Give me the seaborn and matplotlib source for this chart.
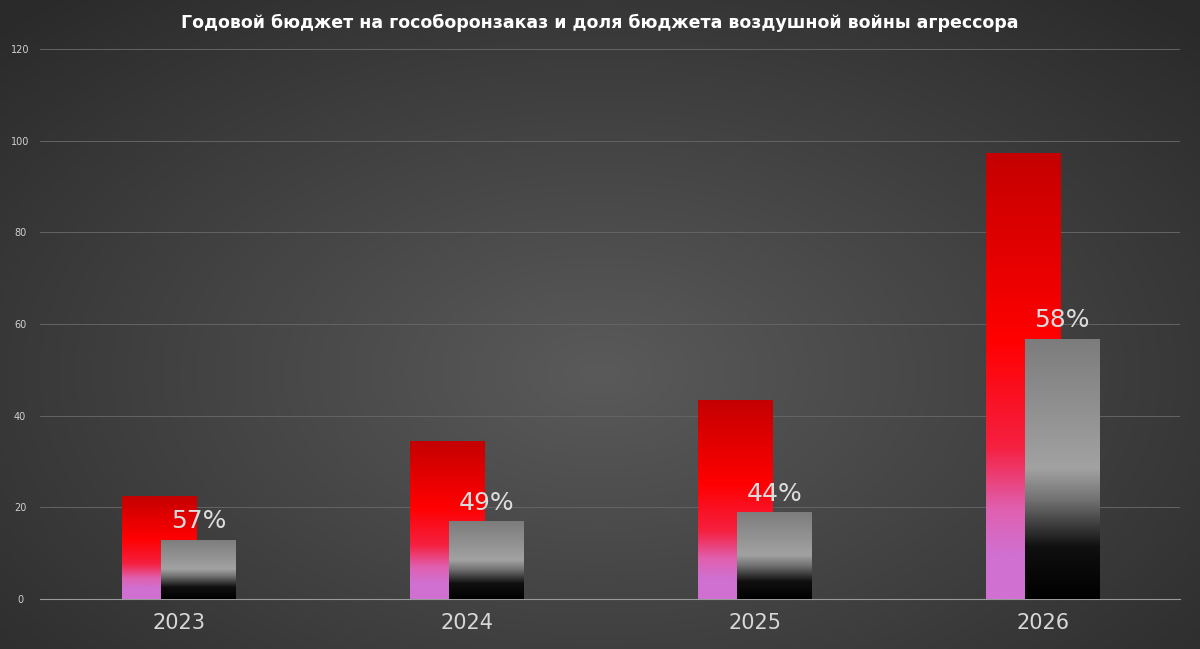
import matplotlib
matplotlib.use("Agg")
import matplotlib.pyplot as plt
import numpy as np
import pandas as pd
import seaborn as sns
from matplotlib.colors import LinearSegmentedColormap

years = ["2023", "2024", "2025", "2026"]
budget_total = [22.5, 34.5, 43.5, 97.4]
budget_air = [12.9, 17.0, 19.0, 56.8]
share_labels = ["57%", "49%", "44%", "58%"]
title = "Годовой бюджет на гособоронзаказ и доля бюджета воздушной войны агрессора"

df = pd.DataFrame({
    "year": years * 2,
    "value": budget_total + budget_air,
    "series": ["total"] * 4 + ["air"] * 4,
})

sns.set_style("dark")
plt.rcParams['font.family'] = ['DejaVu Sans']

fig = plt.figure(figsize=(12, 6.49), dpi=100)

# background: radial gradient, lighter near the upper centre
bg = fig.add_axes([0, 0, 1, 1], zorder=-10)
yy, xx = np.mgrid[-1:1:300j, -1:1:600j]
r = np.sqrt(xx ** 2 + ((yy - 0.15) * 0.9) ** 2)
bg_cmap = LinearSegmentedColormap.from_list("bg", ["#5a5a5a", "#424242", "#2a2a2a"])
bg.imshow(r, cmap=bg_cmap, aspect="auto", extent=[0, 1, 0, 1], vmin=0, vmax=1.4)
bg.axis("off")

ax = fig.add_axes([0.033, 0.077, 0.95, 0.8475])
ax.set_facecolor("none")

sns.barplot(data=df, x="year", y="value", hue="series", hue_order=["total", "air"],
            dodge=True, width=0.5, legend=False, ax=ax)

red_cmap = LinearSegmentedColormap.from_list(
    "red", [(0, "#c40000"), (0.42, "#ff0000"), (0.66, "#f52040"), (0.8, "#e060b0"),
            (0.9, "#d070d0"), (1, "#d070d0")])
grey_cmap = LinearSegmentedColormap.from_list(
    "grey", [(0, "#7c7c7c"), (0.5, "#a2a2a2"), (0.62, "#727272"), (0.8, "#101010"),
             (1, "#000000")])

grad = np.linspace(0, 1, 256).reshape(-1, 1)
width = 0.26
offsets = [-0.068, 0.067]
for k, (cont, cmap) in enumerate(zip(ax.containers, [red_cmap, grey_cmap])):
    for i, bar in enumerate(cont):
        cx = i + offsets[k]
        h = bar.get_height()
        bar.set_x(cx - width / 2)
        bar.set_width(width)
        bar.set_facecolor("none")
        bar.set_edgecolor("none")
        im = ax.imshow(grad, cmap=cmap, aspect="auto", zorder=2 + k,
                       extent=[cx - width / 2, cx + width / 2, 0, h])
        im.set_clip_path(bar)
        if k == 1:
            ax.text(cx, h + 1.4, share_labels[i], ha="center", va="bottom",
                    color="#dcdcdc", fontsize=18, zorder=5)

ax.set_xlim(-0.486, 3.476)
ax.set_ylim(0, 120)
ax.set_yticks(range(0, 121, 20))
ax.yaxis.grid(True, color="#646464", linewidth=0.7)
ax.xaxis.grid(False)
ax.set_axisbelow(True)
for s in ["top", "right", "left"]:
    ax.spines[s].set_visible(False)
ax.spines["bottom"].set_color("#9a9a9a")
ax.spines["bottom"].set_linewidth(0.8)
ax.tick_params(axis="y", colors="#d0d0d0", labelsize=7, length=0, pad=14)
ax.tick_params(axis="x", colors="#d8d8d8", labelsize=15, length=0, pad=10)
for lab in ax.get_yticklabels():
    lab.set_horizontalalignment("center")
ax.set_xlabel("")
ax.set_ylabel("")

fig.text(0.5, 0.965, title, ha="center", va="center", color="white",
         fontsize=12.5, fontweight="bold")

fig.savefig("out.png", dpi=100)
